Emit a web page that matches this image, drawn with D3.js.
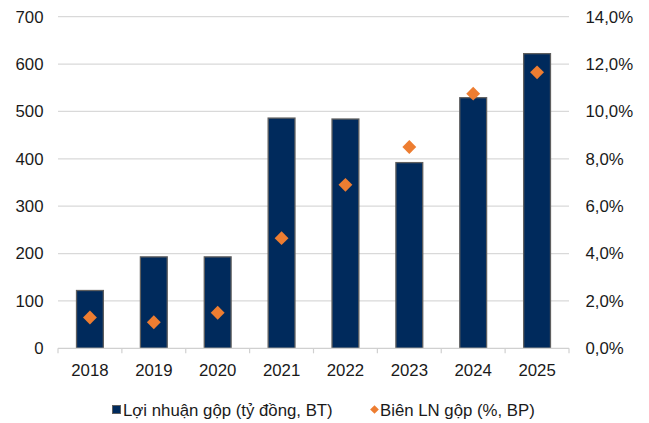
<!DOCTYPE html>
<html><head><meta charset="utf-8">
<script src="https://cdn.jsdelivr.net/npm/d3@7/dist/d3.min.js"></script>
<style>body{margin:0;background:#fff}svg{display:block;font-family:"Liberation Sans",Arial,sans-serif}</style>
</head><body><svg id="c" width="649" height="423"></svg>
<script>
const categories = ["2018","2019","2020","2021","2022","2023","2024","2025"];
const grossProfit = [122, 193, 193, 486, 484, 392, 529, 622];
const grossMargin = [1.3, 1.1, 1.5, 4.65, 6.9, 8.5, 10.75, 11.65];
const leftTicks = [0,100,200,300,400,500,600,700];
const rightTicks = [0,2,4,6,8,10,12,14];
const legendLabels = ["Lợi nhuận gộp (tỷ đồng, BT)", "Biên LN gộp (%, BP)"];

const svg = d3.select("#c");
const L = 58, R = 569, T = 16.7, B = 348.3;
const FS = 16.8;
const x = d3.scaleBand().domain(categories).range([L, R]).paddingInner(0.58).paddingOuter(0.29);
const xb = d3.scaleBand().domain(categories).range([L, R]);
const yL = d3.scaleLinear().domain([0,700]).range([B, T]);
const yR = d3.scaleLinear().domain([0,14]).range([B, T]);

// gridlines
svg.append("g").selectAll("line").data(leftTicks.slice(1)).join("line")
  .attr("x1", L).attr("x2", R).attr("y1", d=>yL(d)).attr("y2", d=>yL(d))
  .attr("stroke", "#d9d9d9").attr("stroke-width", 1.2);

// left axis labels
svg.append("g").selectAll("text").data(leftTicks).join("text")
  .attr("x", 43.5).attr("y", d=>yL(d)).attr("dy","0.35em").attr("text-anchor","end")
  .attr("font-size", FS).attr("fill","#1a1a1a").text(d=>d);

// right axis labels
svg.append("g").selectAll("text").data(rightTicks).join("text")
  .attr("x", 585.5).attr("y", d=>yR(d)).attr("dy","0.35em").attr("text-anchor","start")
  .attr("font-size", FS).attr("fill","#1a1a1a").text(d=>d.toFixed(1).replace(".", ",") + "%");

// bars
svg.append("g").selectAll("rect").data(categories).join("rect")
  .attr("x", d=>x(d)).attr("width", x.bandwidth())
  .attr("y", (d,i)=>yL(grossProfit[i])).attr("height", (d,i)=>B - yL(grossProfit[i]))
  .attr("fill", "#002a5c").attr("stroke", "#5f5f5f").attr("stroke-width", 1.3);

// bottom axis
const ax = svg.append("g");
ax.append("line").attr("x1", L).attr("x2", R).attr("y1", B).attr("y2", B).attr("stroke","#d0d0d0").attr("stroke-width",1.2);
const bounds = categories.map(c=>xb(c)).concat([R]);
ax.selectAll("line.t").data(bounds).join("line").attr("class","t")
  .attr("x1", d=>d).attr("x2", d=>d).attr("y1", B).attr("y2", B+5)
  .attr("stroke","#d0d0d0").attr("stroke-width",1.2);
ax.selectAll("text").data(categories).join("text")
  .attr("x", d=>xb(d)+xb.bandwidth()/2).attr("y", 370).attr("dy","0.35em").attr("text-anchor","middle")
  .attr("font-size", FS).attr("fill","#1a1a1a").text(d=>d);

// diamonds
const dsym = d3.symbol().type(d3.symbolSquare).size(96);
svg.append("g").selectAll("path").data(categories).join("path")
  .attr("d", dsym)
  .attr("transform", (d,i)=>`translate(${xb(d)+xb.bandwidth()/2},${yR(grossMargin[i])}) rotate(45)`)
  .attr("fill", "#ed7d31");

// legend
const lg = svg.append("g");
lg.append("rect").attr("x",112.5).attr("y",405.5).attr("width",8).attr("height",8)
  .attr("fill","#002a5c").attr("stroke","#5f5f5f").attr("stroke-width",1);
lg.append("text").attr("x",123).attr("y",410).attr("dy","0.35em").attr("font-size",FS).attr("fill","#1a1a1a").text(legendLabels[0]);
lg.append("path").attr("d", d3.symbol().type(d3.symbolSquare).size(38))
  .attr("transform","translate(374.5,409.5) rotate(45)").attr("fill","#ed7d31");
lg.append("text").attr("x",380).attr("y",410).attr("dy","0.35em").attr("font-size",FS).attr("fill","#1a1a1a").text(legendLabels[1]);
</script></body></html>
